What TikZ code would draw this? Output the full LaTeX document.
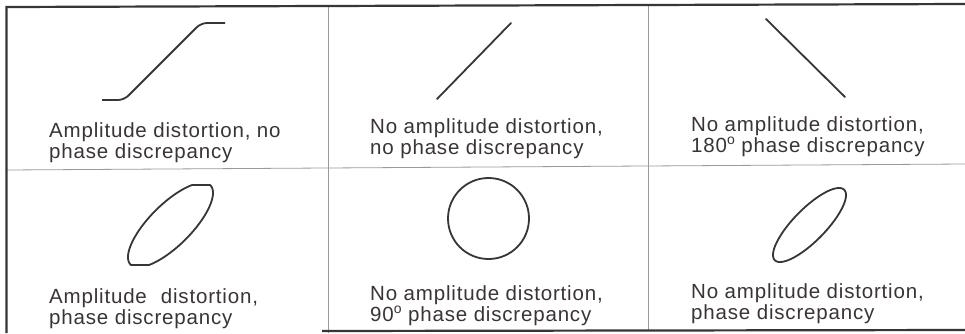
\documentclass[tikz,border=0pt]{standalone}
\usepackage{fontspec}
\setmainfont[LetterSpace=4]{Liberation Sans}
\definecolor{ink}{HTML}{3A3436}
\definecolor{rulecol}{HTML}{9A9A9A}
\newcommand{\degsign}{\smash{\raisebox{7.2pt}{\fontsize{14}{14}\selectfont o}}}
\begin{document}
\begin{tikzpicture}[x=1pt,y=-1pt,
  lbl/.style={anchor=base west, inner sep=0pt, text=ink, font=\fontsize{20.5}{22}\selectfont},
  curve/.style={draw=ink, line width=1.8pt, line join=round},
  frameline/.style={draw=ink, line width=2.2pt},
  gridline/.style={draw=rulecol, line width=0.8pt}]
\useasboundingbox (0,0) rectangle (965,333);
\fill[white] (0,0) rectangle (965,333);
% grid
\draw[gridline] (328,6) -- (328,333);
\draw[gridline] (648,5) -- (648,331);
\draw[gridline] (6,170) -- (965,164);
% frame
\draw[frameline] (6.5,333) -- (6.5,7) -- (965,4);
\draw[frameline] (322,331) -- (965,330);
% shapes
\draw[curve, rounded corners=6pt] (102,100) -- (124,100) -- (201,23) -- (225,23);
\draw[curve, line cap=round] (437,99) -- (511,23);
\draw[curve, line cap=round] (766,19) -- (845,97);
\draw[curve] plot[domain=0:360, samples=241]
  ({170.5+42.5*sin(\x)}, {225-42.3*max(-0.946,min(0.946,sin(\x+40.6)))}) -- cycle;
\draw[curve] (488.5,218.5) circle[radius=40.5pt];
\draw[curve] plot[domain=0:360, samples=181, smooth]
  ({809.5+36.5*sin(\x)}, {225-37*sin(\x+36)}) -- cycle;
% labels
\node[lbl] (t1a) at (49,137) {Amplitude distortion, no};
\node[lbl] (t1b) at (49,158) {phase discrepancy};
\node[lbl] (t2a) at (370,133) {No amplitude distortion,};
\node[lbl] (t2b) at (370,154) {no phase discrepancy};
\node[lbl] (t3a) at (691,131) {No amplitude distortion,};
\node[lbl] (t3b) at (691,152) {180\degsign\ phase discrepancy};
\node[lbl] (t4a) at (49,303) {Amplitude\hspace{14pt}distortion,};
\node[lbl] (t4b) at (49,324) {phase discrepancy};
\node[lbl] (t5a) at (370,300) {No amplitude distortion,};
\node[lbl] (t5b) at (370,321) {90\degsign\ phase discrepancy};
\node[lbl] (t6a) at (691,298) {No amplitude distortion,};
\node[lbl] (t6b) at (691,319) {phase discrepancy};
\end{tikzpicture}
\end{document}
